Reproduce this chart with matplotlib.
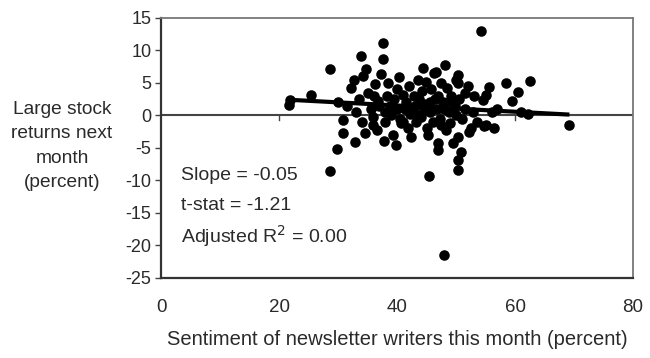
import matplotlib
matplotlib.use("Agg")
import matplotlib.pyplot as plt
import numpy as np

plt.rcParams['font.family'] = ['Liberation Sans', 'DejaVu Sans']

# Data: sentiment (x, percent) vs next-month returns (y, percent)
sentiment = [21.7, 21.9, 25.4, 28.6, 28.6, 29.8, 30.0, 30.8, 30.8, 31.5, 32.2, 32.7, 32.9, 33.5,
             33.9, 34.2, 34.6, 34.7, 35.0, 35.5, 35.9, 35.9, 36.3, 36.8, 37.2, 37.6, 37.6, 37.8,
             37.9, 38.3, 38.5, 38.8, 39.3, 39.5, 39.8, 40.0, 40.3, 40.4, 40.7, 41.0, 41.3, 41.5,
             41.8, 42.0, 42.2, 42.4, 42.8, 43.0, 43.2, 43.5, 43.7, 44.0, 44.2, 44.4, 44.6, 44.9,
             45.0, 45.3, 45.4, 45.5, 45.8, 46.0, 46.2, 46.6, 46.8, 46.9, 46.9, 47.0, 47.2, 47.5,
             47.8, 48.0, 48.1, 48.3, 48.5, 48.8, 49.0, 49.2, 49.5, 49.8, 50.0, 50.3, 50.3, 50.3,
             50.3, 50.3, 50.8, 50.5, 51.0, 51.5, 52.2, 52.5, 52.8, 53.0, 53.5, 54.2, 54.6, 54.8,
             55.1, 55.1, 55.6, 56.0, 56.5, 57.0, 58.5, 59.5, 60.5, 61.0, 62.2, 62.6, 69.2,
             36.0, 37.0, 38.0, 39.0, 40.0, 41.0, 42.5, 43.5, 44.5, 45.5, 46.5, 47.5, 48.0, 49.0,
             50.0, 51.5, 52.0, 33.0, 34.0, 36.5]
returns = [1.6, 2.3, 3.2, 7.2, -8.5, -5.2, 2.0, -0.7, -2.7, 1.5, 4.2, 5.5, -4.1, 2.5,
           9.1, 6.0, -2.7, 7.2, 3.5, 1.0, -1.5, -0.2, 4.8, 2.2, 6.3, 11.1, 8.7, -3.9,
           0.5, 3.0, 5.0, 1.5, -3.0, 2.5, -4.5, 4.0, 5.9, -0.5, -1.2, 3.2, 1.0, 2.0,
           -2.0, 4.5, 0.2, -3.3, 3.0, 1.5, -1.0, 5.5, 2.5, -0.3, 3.8, 7.3, 0.8, 5.2,
           -2.0, -3.0, -9.3, 2.0, 4.0, -1.0, 6.5, 6.7, 1.0, -5.3, -4.3, 3.0, -0.5, 5.0,
           2.0, -21.5, 7.8, -2.2, 4.2, 0.5, -1.2, 3.0, -4.3, 1.5, 5.5, 6.2, 5.0, -3.3,
           -6.8, -8.4, -5.6, 2.5, -0.5, 1.0, -2.5, -1.9, 0.5, 3.0, -1.0, 13.0, 2.3, -1.7,
           3.2, -1.5, 4.4, 0.5, -2.0, 1.0, 5.0, 2.2, 3.6, 0.5, 0.2, 5.3, -1.5,
           3.0, 1.5, -1.0, 0.0, 1.0, -1.0, 1.2, 0.0, 1.8, 0.5, 2.5, -1.5, 1.0, 2.2,
           0.0, 3.5, 4.5, 0.5, -1.0, -2.3]

fit_slope = -0.048
fit_intercept = 3.45

x_ticks = [0, 20, 40, 60, 80]
y_ticks = [15, 10, 5, 0, -5, -10, -15, -20, -25]

stats_lines = ["Slope = -0.05", "t-stat = -1.21", "Adjusted R$^{2}$ = 0.00"]

fig = plt.figure(figsize=(6.5, 3.58), dpi=100)
ax = fig.add_axes([0.248, 0.2235, 0.726, 0.7265])

text_color = '#2a2a2a'

ax.axhline(0, color='#444444', lw=1.5, zorder=1)
for t in x_ticks[1:-1]:
    ax.plot([t, t], [0, -0.7], color='#444444', lw=1.0, zorder=1)

ax.plot(sentiment, returns, 'o', color='black', markersize=7.6, markeredgewidth=0, zorder=3)

xs = np.array([min(sentiment), max(sentiment)])
ax.plot(xs, fit_intercept + fit_slope * xs, color='black', lw=3.0, zorder=4, solid_capstyle='butt')

ax.set_xlim(0, 80)
ax.set_ylim(-25, 15)
ax.set_xticks(x_ticks)
ax.set_yticks(y_ticks)
ax.set_xticklabels([str(v) for v in x_ticks], fontsize=13.5, color=text_color)
ax.set_yticklabels([str(v) for v in y_ticks], fontsize=13, color=text_color)
ax.tick_params(axis='x', length=0, pad=15)
ax.tick_params(axis='y', length=4, width=1.0, direction='out', color='#444444', pad=3)

for side in ['left', 'bottom']:
    ax.spines[side].set_color('#333333')
    ax.spines[side].set_linewidth(1.6)
for side in ['top', 'right']:
    ax.spines[side].set_color('#777777')
    ax.spines[side].set_linewidth(1.3)
    ax.spines[side].set_linestyle((0, (1.5, 1)))

ax.set_xlabel("Sentiment of newsletter writers this month (percent)", fontsize=14.5,
              color=text_color, labelpad=10)

fig.text(62 / 650, 1 - 146 / 358, "Large stock\nreturns next\nmonth\n(percent)",
         ha='center', va='center', fontsize=13.8, color=text_color, linespacing=1.55)

for i, line in enumerate(stats_lines):
    ax.text(181 / 650, 1 - (175 + 30.5 * i) / 358, line, transform=fig.transFigure,
            ha='left', va='center', fontsize=14, color=text_color)

fig.savefig("out.png", dpi=100)
